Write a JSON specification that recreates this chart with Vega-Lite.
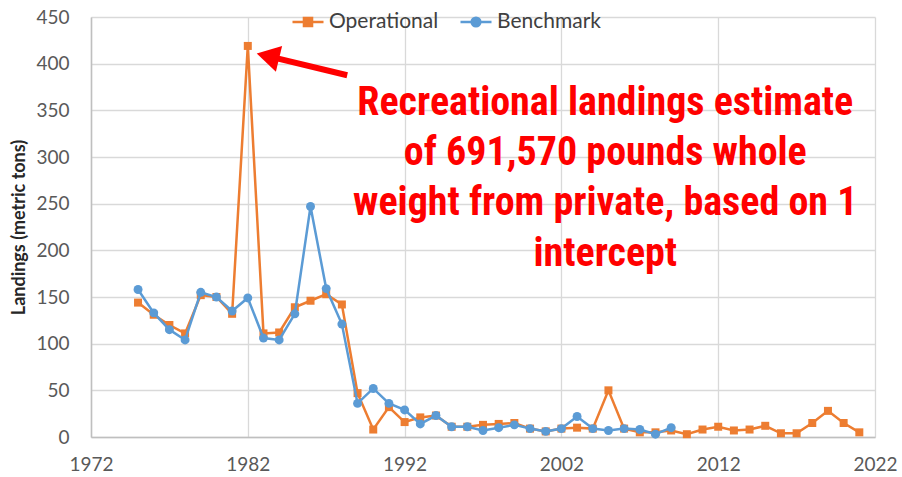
{
  "$schema": "https://vega.github.io/schema/vega-lite/v6.json",
  "width": 784,
  "height": 420,
  "autosize": "none",
  "padding": {"left": 91, "top": 17, "right": 27, "bottom": 40},
  "background": "white",
  "config": {
    "font": "Lato",
    "view": {"stroke": null},
    "axis": {
      "labelFont": "Lato",
      "labelFontSize": 19,
      "labelColor": "#595959",
      "gridColor": "#D9D9D9",
      "gridWidth": 1.3,
      "domainColor": "#BFBFBF",
      "domainWidth": 1.5,
      "ticks": false
    }
  },
  "datasets": {
    "landings": [
      {"year": 1975, "series": "Operational", "value": 144},
      {"year": 1976, "series": "Operational", "value": 131},
      {"year": 1977, "series": "Operational", "value": 120},
      {"year": 1978, "series": "Operational", "value": 111},
      {"year": 1979, "series": "Operational", "value": 152},
      {"year": 1980, "series": "Operational", "value": 150},
      {"year": 1981, "series": "Operational", "value": 132},
      {"year": 1982, "series": "Operational", "value": 419},
      {"year": 1983, "series": "Operational", "value": 111},
      {"year": 1984, "series": "Operational", "value": 112},
      {"year": 1985, "series": "Operational", "value": 139},
      {"year": 1986, "series": "Operational", "value": 146},
      {"year": 1987, "series": "Operational", "value": 153},
      {"year": 1988, "series": "Operational", "value": 142},
      {"year": 1989, "series": "Operational", "value": 47},
      {"year": 1990, "series": "Operational", "value": 8},
      {"year": 1991, "series": "Operational", "value": 32},
      {"year": 1992, "series": "Operational", "value": 16},
      {"year": 1993, "series": "Operational", "value": 21},
      {"year": 1994, "series": "Operational", "value": 23},
      {"year": 1995, "series": "Operational", "value": 11},
      {"year": 1996, "series": "Operational", "value": 11},
      {"year": 1997, "series": "Operational", "value": 13},
      {"year": 1998, "series": "Operational", "value": 14},
      {"year": 1999, "series": "Operational", "value": 15},
      {"year": 2000, "series": "Operational", "value": 9},
      {"year": 2001, "series": "Operational", "value": 6},
      {"year": 2002, "series": "Operational", "value": 9},
      {"year": 2003, "series": "Operational", "value": 10},
      {"year": 2004, "series": "Operational", "value": 9},
      {"year": 2005, "series": "Operational", "value": 50},
      {"year": 2006, "series": "Operational", "value": 9},
      {"year": 2007, "series": "Operational", "value": 5},
      {"year": 2008, "series": "Operational", "value": 5},
      {"year": 2009, "series": "Operational", "value": 7},
      {"year": 2010, "series": "Operational", "value": 3},
      {"year": 2011, "series": "Operational", "value": 8},
      {"year": 2012, "series": "Operational", "value": 11},
      {"year": 2013, "series": "Operational", "value": 7},
      {"year": 2014, "series": "Operational", "value": 8},
      {"year": 2015, "series": "Operational", "value": 12},
      {"year": 2016, "series": "Operational", "value": 4},
      {"year": 2017, "series": "Operational", "value": 4},
      {"year": 2018, "series": "Operational", "value": 15},
      {"year": 2019, "series": "Operational", "value": 28},
      {"year": 2020, "series": "Operational", "value": 15},
      {"year": 2021, "series": "Operational", "value": 5},
      {"year": 1975, "series": "Benchmark", "value": 158},
      {"year": 1976, "series": "Benchmark", "value": 133},
      {"year": 1977, "series": "Benchmark", "value": 115},
      {"year": 1978, "series": "Benchmark", "value": 104},
      {"year": 1979, "series": "Benchmark", "value": 155},
      {"year": 1980, "series": "Benchmark", "value": 150},
      {"year": 1981, "series": "Benchmark", "value": 135},
      {"year": 1982, "series": "Benchmark", "value": 149},
      {"year": 1983, "series": "Benchmark", "value": 106},
      {"year": 1984, "series": "Benchmark", "value": 104},
      {"year": 1985, "series": "Benchmark", "value": 132},
      {"year": 1986, "series": "Benchmark", "value": 247},
      {"year": 1987, "series": "Benchmark", "value": 159},
      {"year": 1988, "series": "Benchmark", "value": 121},
      {"year": 1989, "series": "Benchmark", "value": 36},
      {"year": 1990, "series": "Benchmark", "value": 52},
      {"year": 1991, "series": "Benchmark", "value": 36},
      {"year": 1992, "series": "Benchmark", "value": 29},
      {"year": 1993, "series": "Benchmark", "value": 14},
      {"year": 1994, "series": "Benchmark", "value": 23},
      {"year": 1995, "series": "Benchmark", "value": 11},
      {"year": 1996, "series": "Benchmark", "value": 11},
      {"year": 1997, "series": "Benchmark", "value": 7},
      {"year": 1998, "series": "Benchmark", "value": 10},
      {"year": 1999, "series": "Benchmark", "value": 13},
      {"year": 2000, "series": "Benchmark", "value": 9},
      {"year": 2001, "series": "Benchmark", "value": 6},
      {"year": 2002, "series": "Benchmark", "value": 9},
      {"year": 2003, "series": "Benchmark", "value": 22},
      {"year": 2004, "series": "Benchmark", "value": 9},
      {"year": 2005, "series": "Benchmark", "value": 7},
      {"year": 2006, "series": "Benchmark", "value": 9},
      {"year": 2007, "series": "Benchmark", "value": 8},
      {"year": 2008, "series": "Benchmark", "value": 3},
      {"year": 2009, "series": "Benchmark", "value": 10}
    ],
    "note": [
      {"x": 2004.8, "y": 344.8, "line": "Recreational landings estimate"},
      {"x": 2004.8, "y": 291.2, "line": "of 691,570 pounds whole"},
      {"x": 2004.8, "y": 237.7, "line": "weight from private, based on 1"},
      {"x": 2004.8, "y": 183.1, "line": "intercept"}
    ],
    "arrow": [
      {"x": 1988.34, "y": 387.6, "x2": 1983.28, "y2": 408.1}
    ],
    "arrowhead": [
      {"x": 1983.28, "y": 408.1}
    ]
  },
  "layer": [
    {
      "data": {"name": "landings"},
      "transform": [{"filter": "datum.series === 'Operational'"}],
      "mark": {"type": "line", "strokeWidth": 2.5},
      "encoding": {
        "x": {"field": "year", "type": "quantitative",
          "scale": {"domain": [1972, 2022], "nice": false, "zero": false},
          "axis": {"values": [1972, 1982, 1992, 2002, 2012, 2022], "format": "d", "title": null, "labelPadding": 18, "labelFlush": false}},
        "y": {"field": "value", "type": "quantitative",
          "scale": {"domain": [0, 450], "nice": false},
          "axis": {"values": [0, 50, 100, 150, 200, 250, 300, 350, 400, 450], "title": "Landings (metric tons)", "titleFont": "Lato", "titleFontSize": 18, "titleFontWeight": "bold", "titleColor": "#262626", "titlePadding": 7, "labelPadding": 22}},
        "color": {"field": "series", "type": "nominal",
          "scale": {"domain": ["Operational", "Benchmark"], "range": ["#ED7D31", "#5B9BD5"]},
          "legend": {
            "title": null, "orient": "none", "direction": "horizontal",
            "legendX": 200, "legendY": -12,
            "labelFontSize": 21, "labelColor": "#404040", "labelFont": "Lato",
            "symbolSize": 961, "columnPadding": 16, "labelOffset": 4,
            "encode": {
              "symbols": {
                "update": {
                  "shape": {"signal": "datum.value === 'Operational' ? 'M-1,0H1M-0.26,-0.26H0.26V0.26H-0.26Z' : 'M-1,0H1M0.28,0A0.28,0.28,0,1,1,-0.28,0A0.28,0.28,0,1,1,0.28,0'"},
                  "stroke": {"signal": "datum.value === 'Operational' ? '#ED7D31' : '#5B9BD5'"},
                  "fill": {"signal": "datum.value === 'Operational' ? '#ED7D31' : '#5B9BD5'"},
                  "strokeWidth": {"value": 2.5},
                  "opacity": {"value": 1}
                }
              }
            }
          }}
      }
    },
    {
      "data": {"name": "landings"},
      "transform": [{"filter": "datum.series === 'Operational'"}],
      "mark": {"type": "point", "filled": true, "shape": "square", "size": 64, "opacity": 1},
      "encoding": {
        "x": {"field": "year", "type": "quantitative"},
        "y": {"field": "value", "type": "quantitative"},
        "color": {"field": "series", "type": "nominal"}
      }
    },
    {
      "data": {"name": "landings"},
      "transform": [{"filter": "datum.series === 'Benchmark'"}],
      "mark": {"type": "line", "strokeWidth": 2.5},
      "encoding": {
        "x": {"field": "year", "type": "quantitative"},
        "y": {"field": "value", "type": "quantitative"},
        "color": {"field": "series", "type": "nominal"}
      }
    },
    {
      "data": {"name": "landings"},
      "transform": [{"filter": "datum.series === 'Benchmark'"}],
      "mark": {"type": "point", "filled": true, "shape": "circle", "size": 80, "opacity": 1},
      "encoding": {
        "x": {"field": "year", "type": "quantitative"},
        "y": {"field": "value", "type": "quantitative"},
        "color": {"field": "series", "type": "nominal"}
      }
    },
    {
      "data": {"name": "arrow"},
      "mark": {"type": "rule", "color": "#FF0000", "strokeWidth": 6},
      "encoding": {
        "x": {"field": "x", "type": "quantitative"},
        "y": {"field": "y", "type": "quantitative"},
        "x2": {"field": "x2"},
        "y2": {"field": "y2"}
      }
    },
    {
      "data": {"name": "arrowhead"},
      "mark": {"type": "point", "shape": "triangle-up", "filled": true, "color": "#FF0000", "size": 700, "angle": 283.6, "opacity": 1},
      "encoding": {
        "x": {"field": "x", "type": "quantitative"},
        "y": {"field": "y", "type": "quantitative"}
      }
    },
    {
      "data": {"name": "note"},
      "mark": {"type": "text", "color": "#FF0000", "font": "Roboto Condensed", "fontWeight": "bold", "fontSize": 40, "align": "center", "baseline": "alphabetic"},
      "encoding": {
        "x": {"field": "x", "type": "quantitative"},
        "y": {"field": "y", "type": "quantitative"},
        "text": {"field": "line"}
      }
    }
  ]
}
